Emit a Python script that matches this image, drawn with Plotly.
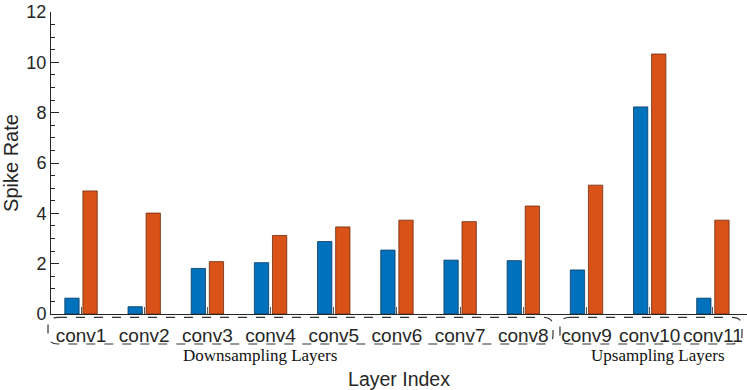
# Spike rate per conv layer, two models side by side
import plotly.graph_objects as go

layers = ["conv1", "conv2", "conv3", "conv4", "conv5", "conv6",
          "conv7", "conv8", "conv9", "conv10", "conv11"]
rate_blue = [0.63, 0.29, 1.81, 2.04, 2.88, 2.54, 2.14, 2.12, 1.75, 8.23, 0.63]
rate_orange = [4.89, 4.01, 2.08, 3.12, 3.46, 3.73, 3.67, 4.29, 5.12, 10.33, 3.73]
y_ticks = [0, 2, 4, 6, 8, 10, 12]

pos = list(range(len(layers)))
axis_col = "#262626"

fig = go.Figure()
fig.add_trace(go.Bar(x=pos, y=rate_blue, marker=dict(color="#0072BD",
                     line=dict(color="#0a3a60", width=0.8))))
fig.add_trace(go.Bar(x=pos, y=rate_orange, marker=dict(color="#D95319",
                     line=dict(color="#6e2a0c", width=0.8))))


def rounded_box(x0, x1, y0, y1, rx, ry):
    # rounded rectangle path in paper units (y0 top, y1 bottom)
    return (f"M {x0 + rx} {y0} L {x1 - rx} {y0} Q {x1} {y0} {x1} {y0 - ry} "
            f"L {x1} {y1 + ry} Q {x1} {y1} {x1 - rx} {y1} "
            f"L {x0 + rx} {y1} Q {x0} {y1} {x0} {y1 + ry} "
            f"L {x0} {y0 - ry} Q {x0} {y0} {x0 + rx} {y0} Z")


dash_line = dict(color="#333333", width=1.2, dash="dash")
groups = [(-0.0043, 0.7213), (0.7313, 0.9928)]
box_top, box_bot, rx, ry = -0.011, -0.0993, 0.0144, 0.03
for gx0, gx1 in groups:
    fig.add_shape(type="path", xref="paper", yref="paper", layer="above",
                  path=rounded_box(gx0, gx1, box_top, box_bot, rx, ry), line=dash_line)

fig.add_annotation(x=2.83, y=-0.136, xref="x", yref="paper", text="Downsampling Layers",
                   showarrow=False, yanchor="middle",
                   font=dict(family="Liberation Serif", size=17, color="#111111"))
fig.add_annotation(x=9.13, y=-0.139, xref="x", yref="paper", text="Upsampling Layers",
                   showarrow=False, yanchor="middle",
                   font=dict(family="Liberation Serif", size=17, color="#111111"))

fig.update_layout(
    width=747, height=390,
    margin=dict(l=51, r=0, t=12, b=76),
    plot_bgcolor="white", paper_bgcolor="white",
    showlegend=False,
    barmode="group", bargap=0.427, bargroupgap=0.21,
    font=dict(family="Liberation Sans", size=18, color=axis_col),
    xaxis=dict(range=[-0.475, 10.54], tickvals=pos, ticktext=layers,
               automargin=False, tickfont=dict(size=19),
               showline=True, linecolor=axis_col, linewidth=1,
               ticks="inside", ticklen=7, tickcolor="#555555",
               showgrid=False, zeroline=False, ticklabelstandoff=4,
               title=dict(text="Layer Index", font=dict(size=19.5), standoff=28)),
    yaxis=dict(range=[0, 12], tickvals=y_ticks, automargin=False,
               showline=True, linecolor=axis_col, linewidth=1,
               ticks="inside", ticklen=8, tickcolor=axis_col,
               minor=dict(ticks="inside", ticklen=4, dtick=0.5, tickcolor=axis_col),
               showgrid=False, zeroline=False,
               title=dict(text="Spike Rate", font=dict(size=20), standoff=8)),
)

# page body has an 8px default margin; drop it so the figure fills the window
fig.write_html("out.html", config={"displayModeBar": False},
               post_script="document.body.style.margin='0px';")
